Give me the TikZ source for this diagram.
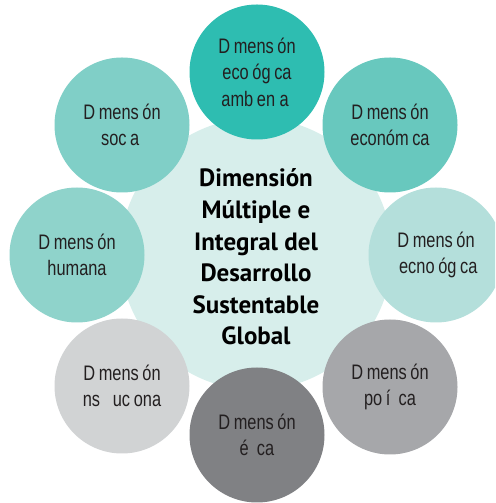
\documentclass[tikz,border=0pt]{standalone}
\usepackage{fontspec}
\usepackage{tikz}
\newfontfamily\dimfont{Liberation Sans}[FakeStretch=0.78]
\newfontfamily\titfont{PT Sans}
\newcommand{\hueco}[1]{\phantom{#1}}
\definecolor{texto}{HTML}{231F20}
\definecolor{cCentro}{HTML}{D7EEEB}
\definecolor{cAmb}{HTML}{2EBDB1}
\definecolor{cEco}{HTML}{68C8BE}
\definecolor{cTec}{HTML}{B4DFDB}
\definecolor{cPol}{HTML}{A6A7AA}
\definecolor{cEti}{HTML}{808184}
\definecolor{cIns}{HTML}{D1D3D4}
\definecolor{cHum}{HTML}{8FD3CB}
\definecolor{cSoc}{HTML}{80CFC7}

\begin{document}
\begin{tikzpicture}[x=1pt,y=1pt,
    dnode/.style={circle,minimum size=135pt,inner sep=0pt,align=center,text=texto,
        font=\dimfont\fontsize{21}{26.5}\selectfont},
    cnode/.style={circle,minimum size=272pt,inner sep=0pt,fill=cCentro}]
    \clip (0,0) rectangle (495,503);
    \useasboundingbox (0,0) rectangle (495,503);

    \node[cnode] (centro) at (256,249) {};
    \node[align=center,font=\titfont\bfseries\fontsize{25}{31.6}\selectfont] (titulo) at (256,246)
        {Dimensión\\Múltiple e\\Integral del\\Desarrollo\\Sustentable\\Global};

    \node[dnode,fill=cAmb] (amb) at (257,431) {D\hueco{i}mens\hueco{i}ón\\eco\hueco{l}óg\hueco{i}ca\\amb\hueco{i}en\hueco{t}a\hueco{l}};
    \node[dnode,fill=cEco] (eco) at (390,378) {D\hueco{i}mens\hueco{i}ón\\económ\hueco{i}ca};
    \node[dnode,fill=cTec] (tec) at (436,248) {D\hueco{i}mens\hueco{i}ón\\\hueco{t}ecno\hueco{l}óg\hueco{i}ca};
    \node[dnode,fill=cPol] (pol) at (390,116) {D\hueco{i}mens\hueco{i}ón\\po\hueco{l}í\hueco{ti}ca};
    \node[dnode,fill=cEti] (eti) at (257,68) {D\hueco{i}mens\hueco{i}ón\\é\hueco{ti}ca};
    \node[dnode,fill=cIns] (ins) at (122,117) {D\hueco{i}mens\hueco{i}ón\\\hueco{i}ns\hueco{tit}uc\hueco{i}ona\hueco{l}};
    \node[dnode,fill=cHum] (hum) at (77,248) {D\hueco{i}mens\hueco{i}ón\\humana};
    \node[dnode,fill=cSoc] (soc) at (122,378) {D\hueco{i}mens\hueco{i}ón\\soc\hueco{i}a\hueco{l}};
\end{tikzpicture}
\end{document}
